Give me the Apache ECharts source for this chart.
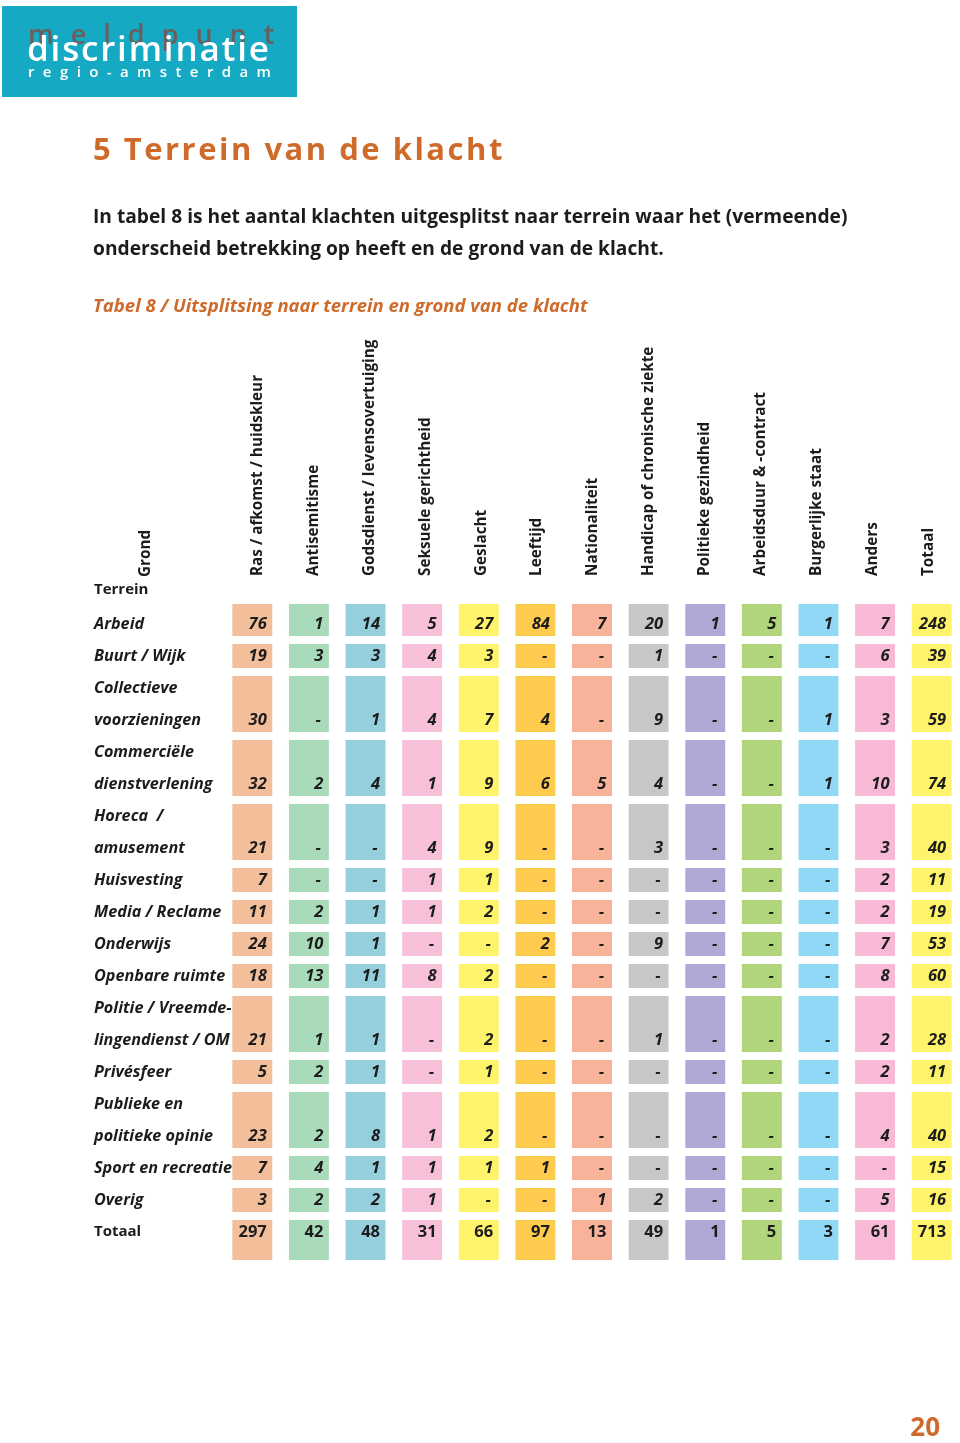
<!DOCTYPE html>
<html><head><meta charset="utf-8">
<script src="https://cdn.jsdelivr.net/npm/echarts@6/dist/echarts.min.js"></script>
<style>html,body{margin:0;padding:0;background:#fff}#c{width:960px;height:1443px}</style>
</head><body><div id="c"></div>
<script>
// ---- data ----
const gronden = ['Ras / afkomst / huidskleur','Antisemitisme','Godsdienst / levensovertuiging','Seksuele gerichtheid','Geslacht','Leeftijd','Nationaliteit','Handicap of chronische ziekte','Politieke gezindheid','Arbeidsduur & -contract','Burgerlijke staat','Anders','Totaal'];
const terreinen = [['Arbeid'],['Buurt / Wijk'],['Collectieve','voorzieningen'],['Commerciële','dienstverlening'],['Horeca  /','amusement'],['Huisvesting'],['Media / Reclame'],['Onderwijs'],['Openbare ruimte'],['Politie / Vreemde-','lingendienst / OM'],['Privésfeer'],['Publieke en','politieke opinie'],['Sport en recreatie'],['Overig'],['Totaal']];
const ras           = [76,19,30,32,21,7,11,24,18,21,5,23,7,3,297];
const antisemitisme = [1,3,0,2,0,0,2,10,13,1,2,2,4,2,42];
const godsdienst    = [14,3,1,4,0,0,1,1,11,1,1,8,1,2,48];
const seksuele      = [5,4,4,1,4,1,1,0,8,0,0,1,1,1,31];
const geslacht      = [27,3,7,9,9,1,2,0,2,2,1,2,1,0,66];
const leeftijd      = [84,0,4,6,0,0,0,2,0,0,0,0,1,0,97];
const nationaliteit = [7,0,0,5,0,0,0,0,0,0,0,0,0,1,13];
const handicap      = [20,1,9,4,3,0,0,9,0,1,0,0,0,2,49];
const politieke     = [1,0,0,0,0,0,0,0,0,0,0,0,0,0,1];
const arbeidsduur   = [5,0,0,0,0,0,0,0,0,0,0,0,0,0,5];
const burgerlijke   = [1,0,1,1,0,0,0,0,0,0,0,0,0,0,3];
const anders        = [7,6,3,10,3,2,2,7,8,2,2,4,0,5,61];
const totaal        = [248,39,59,74,40,11,19,53,60,28,11,40,15,16,713];
const kolommen = [ras,antisemitisme,godsdienst,seksuele,geslacht,leeftijd,nationaliteit,handicap,politieke,arbeidsduur,burgerlijke,anders,totaal];
const kleuren = ['#F3BF9B','#A9DBBB','#95CFDD','#F8C0D8','#FFF36B','#FFCB4F','#F9B39B','#C7C7C9','#ADA8D4','#B1D57C','#91D8F6','#F7B9D5','#FFF36B'];

// ---- layout derived from labels ----
const lineLabels = [];
const rowStart = [], rowEnd = [];
terreinen.forEach(lines => { rowStart.push(lineLabels.length); lines.forEach(t => lineLabels.push(t)); rowEnd.push(lineLabels.length - 1); });
const lastRow = terreinen.length - 1;
const nLines = lineLabels.length;

const cells = [];
kolommen.forEach((col, c) => col.forEach((v, r) => cells.push([c, rowStart[r], rowEnd[r], v, r])));

const orange = '#CF6B2A';
const ink = '#1C1C1C';
const FF = '"Open Sans", sans-serif';

// letter-spaced text via rich tokens with horizontal padding
function spaced(str, font, fill, sp) {
  return {
    text: Array.from(str).map(ch => '{s|' + ch + '}').join(''),
    rich: {s: {font: font, fill: fill, padding: [0, sp / 2, 0, sp / 2]}},
    verticalAlign: 'middle'
  };
}

const chart = echarts.init(document.getElementById('c'), null, {renderer: 'canvas'});
chart.setOption({
  backgroundColor: '#fff',
  animation: false,
  grid: [
    {left: 224, width: 738, top: 592, height: 32 * (nLines + 1)},
    {left: 229.5, width: 727, top: 592, height: 32 * (nLines + 1)}
  ],
  xAxis: [{
    type: 'category', data: gronden, gridIndex: 0,
    axisLine: {show: false}, axisTick: {show: false}, splitLine: {show: false}, axisLabel: {show: false}
  }, {
    type: 'category', position: 'top', data: gronden, gridIndex: 1,
    axisLine: {show: false}, axisTick: {show: false}, splitLine: {show: false},
    axisLabel: {rotate: 90, margin: 16, interval: 0, fontFamily: FF, fontWeight: 'bold', fontSize: 15.3, color: ink}
  }],
  yAxis: [{
    type: 'value', inverse: true, min: -1, max: nLines, interval: 1, gridIndex: 0,
    axisLine: {show: false}, axisTick: {show: false}, splitLine: {show: false},
    axisLabel: {
      margin: 130, align: 'left', fontFamily: FF, fontWeight: 'bold', fontStyle: 'italic', fontSize: 16.2, color: ink,
      formatter: v => { const t = lineLabels[v]; if (t === undefined) return ''; return v === nLines - 1 ? '{b|' + t + '}' : t; },
      rich: {b: {fontFamily: FF, fontWeight: 'bold', fontStyle: 'normal', fontSize: 15, color: ink}}
    }
  }, {
    type: 'value', gridIndex: 1, show: false, min: 0, max: 1
  }],
  series: [{
    type: 'custom', data: cells, encode: {x: 0, y: [1, 2]}, xAxisIndex: 0, yAxisIndex: 0,
    renderItem: (params, api) => {
      const c = api.value(0), l0 = api.value(1), l1 = api.value(2), v = api.value(3), r = api.value(4);
      const topV = l0 - 0.375 - (l0 === 0 ? 0.25 : 0);
      const botV = l1 + 0.375 + (r === lastRow ? 0.5 : 0);
      const p0 = api.coord([c, topV]), p1 = api.coord([c, botV]);
      const bw = api.size([1, 0])[0] * 0.705;
      const ty = api.coord([c, l1])[1];
      const isTot = r === lastRow;
      const txt = v === 0 ? '-' : String(v);
      return {type: 'group', children: [
        {type: 'rect', shape: {x: p0[0] - bw / 2, y: p0[1], width: bw, height: p1[1] - p0[1]}, style: {fill: kleuren[c]}},
        {type: 'text', style: {text: txt, x: p0[0] + bw / 2 - (v === 0 ? 8 : 5.5), y: ty, align: 'right', verticalAlign: 'middle',
          font: (isTot ? 'normal' : 'italic') + ' bold 16.5px ' + FF, fill: ink}}
      ]};
    }
  }],
  graphic: [
    {type: 'rect', shape: {x: 2, y: 6, width: 295, height: 91}, style: {fill: '#16A9C3'}},
    {type: 'text', x: 28 - 8.5, y: 36, style: spaced('meldpunt', '600 27px ' + FF, '#6A5F5C', 17)},
    {type: 'text', x: 27 - 0.9, y: 51, style: spaced('discriminatie', '600 35px ' + FF, '#ffffff', 1.8)},
    {type: 'text', x: 28 - 4.2, y: 72.5, style: spaced('regio-amsterdam', '600 15px ' + FF, '#ffffff', 8.4)},
    {type: 'text', x: 93 - 1.25, y: 151, style: spaced('5 Terrein van de klacht', 'bold 31px ' + FF, orange, 2.5)},
    {type: 'text', x: 93, y: 218, style: {text: 'In tabel 8 is het aantal klachten uitgesplitst naar terrein waar het (vermeende)', font: 'bold 19.2px ' + FF, fill: ink, verticalAlign: 'middle'}},
    {type: 'text', x: 93, y: 250, style: {text: 'onderscheid betrekking op heeft en de grond van de klacht.', font: 'bold 19.2px ' + FF, fill: ink, verticalAlign: 'middle'}},
    {type: 'text', x: 93, y: 307, style: {text: 'Tabel 8 / Uitsplitsing naar terrein en grond van de klacht', font: 'italic bold 18.5px ' + FF, fill: orange, verticalAlign: 'middle'}},
    {type: 'text', x: 146, y: 577, rotation: Math.PI / 2, style: {text: 'Grond', font: 'bold 15.3px ' + FF, fill: ink, align: 'left', verticalAlign: 'middle'}},
    {type: 'text', x: 94, y: 590, style: {text: 'Terrein', font: 'bold 15px ' + FF, fill: ink, verticalAlign: 'middle'}},
    {type: 'text', x: 940, y: 1429, style: {text: '20', font: 'bold 26px ' + FF, fill: orange, align: 'right', verticalAlign: 'middle'}}
  ]
});
</script></body></html>
